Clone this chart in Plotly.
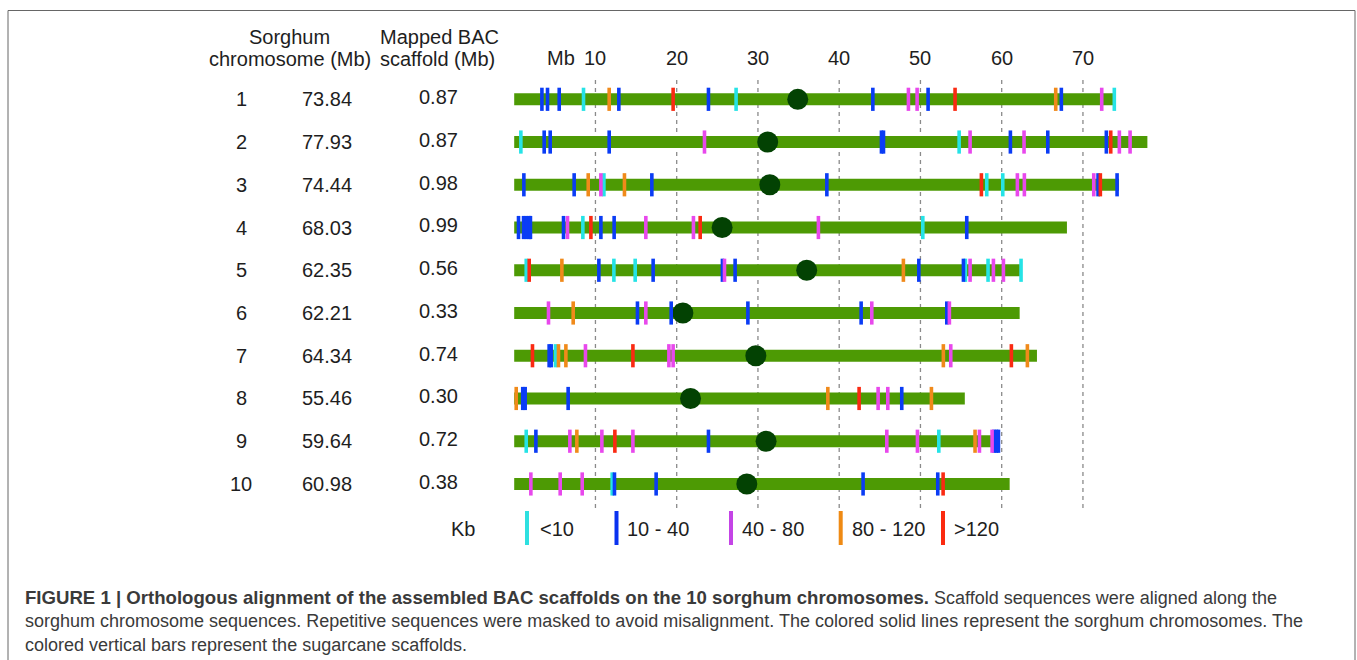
import plotly.graph_objects as go

# ---------------- data ----------------
chrom_ids = [1, 2, 3, 4, 5, 6, 7, 8, 9, 10]
chrom_len_mb = [73.84, 77.93, 74.44, 68.03, 62.35, 62.21, 64.34, 55.46, 59.64, 60.98]
scaffold_mb = ["0.87", "0.87", "0.98", "0.99", "0.56", "0.33", "0.74", "0.30", "0.72", "0.38"]
centromere_mb = [34.9, 31.2, 31.46, 25.59, 36.0, 20.76, 29.74, 21.7, 31.0, 28.63]
grid_ticks = [10, 20, 30, 40, 50, 60, 70]

# scaffold positions (Mb) and size class per chromosome
# classes: c = <10 Kb, b = 10-40, p = 40-80, o = 80-120, r = >120
scaf_chr1_pos = [3.41, 4.10, 5.54, 8.53, 11.69, 12.88, 19.56, 23.91, 27.31, 44.14, 48.52, 49.59, 50.94, 54.26, 66.65, 67.34, 72.31, 73.86]
scaf_chr1_cls = ["b", "b", "b", "c", "o", "b", "r", "b", "c", "b", "p", "p", "b", "r", "o", "b", "p", "c"]
scaf_chr2_pos = [0.82, 3.69, 4.43, 11.69, 23.42, 45.2, 45.45, 54.76, 56.11, 61.07, 62.75, 65.67, 72.88, 73.42, 74.48, 75.80]
scaf_chr2_cls = ["c", "b", "b", "b", "p", "b", "b", "c", "p", "b", "p", "b", "b", "r", "p", "p"]
scaf_chr3_pos = [1.19, 7.38, 9.11, 10.67, 11.04, 13.57, 16.94, 38.48, 57.50, 58.16, 60.13, 61.93, 62.79, 71.33, 71.86, 72.14, 74.2]
scaf_chr3_cls = ["b", "b", "o", "p", "c", "o", "b", "b", "r", "c", "c", "p", "p", "p", "b", "r", "b"]
scaf_chr4_pos = [0.53, 1.15, 1.5, 1.85, 2.0, 6.07, 6.56, 8.45, 9.44, 10.67, 12.30, 16.20, 22.06, 22.89, 37.44, 50.29, 55.70]
scaf_chr4_cls = ["b", "b", "b", "b", "b", "b", "p", "c", "r", "b", "b", "p", "p", "r", "p", "c", "b"]
scaf_chr5_pos = [1.48, 1.85, 5.87, 10.42, 12.27, 14.89, 17.10, 25.63, 25.88, 27.19, 47.90, 49.80, 55.29, 55.53, 56.11, 58.32, 58.98, 60.21, 62.38]
scaf_chr5_cls = ["c", "r", "o", "b", "c", "c", "b", "b", "p", "b", "o", "b", "b", "c", "p", "c", "p", "p", "c"]
scaf_chr6_pos = [4.22, 7.26, 15.17, 16.20, 19.32, 28.76, 42.70, 44.01, 53.24, 53.56]
scaf_chr6_cls = ["p", "o", "b", "p", "b", "b", "b", "p", "b", "p"]
scaf_chr7_pos = [2.25, 4.3, 4.55, 5.08, 5.45, 6.36, 8.77, 14.61, 19.04, 19.56, 52.82, 53.73, 61.19, 63.16]
scaf_chr7_cls = ["r", "b", "b", "c", "o", "o", "p", "r", "p", "p", "o", "p", "r", "o"]
scaf_chr8_pos = [0.25, 1.05, 1.35, 6.64, 38.6, 42.45, 44.79, 45.98, 47.70, 51.35]
scaf_chr8_cls = ["o", "b", "b", "b", "o", "r", "p", "p", "b", "o"]
scaf_chr9_pos = [1.48, 2.67, 6.85, 7.71, 10.79, 12.39, 14.61, 23.91, 45.86, 49.63, 52.26, 56.72, 57.26, 58.82, 59.05, 59.35, 59.6]
scaf_chr9_cls = ["c", "b", "p", "o", "p", "r", "p", "b", "p", "p", "c", "o", "p", "p", "b", "b", "b"]
scaf_chr10_pos = [2.05, 5.66, 8.37, 12.06, 12.34, 17.47, 42.94, 52.13, 52.79]
scaf_chr10_cls = ["p", "p", "p", "c", "b", "b", "b", "b", "r"]

class_keys = ["c", "b", "p", "o", "r"]
class_labels = ["<10", "10 - 40", "40 - 80", "80 - 120", ">120"]

# ---------------- styles ----------------
W, H = 1357, 660
X0_PX, PX_PER_MB = 514.2, 8.125
ROW1_PX, ROW_STEP_PX = 99.3, 42.74
FONT = "Liberation Sans, Arial, sans-serif"
TXT = "#1e1e1e"
bar_colors = {"c": "#25e3e6", "b": "#0a3cf5", "p": "#e848ec", "o": "#f08a1a", "r": "#fa2a12"}
legend_colors = {"c": "#2ee0e0", "b": "#0a32f0", "p": "#c444e6", "o": "#ef8a14", "r": "#fb2a10"}
GREEN = "#4d9a04"
CENT = "#034203"

def px2x(px):
    return px / W

def py2y(py):
    return 1 - py / H

x_range = [(0 - X0_PX) / PX_PER_MB, (W - X0_PX) / PX_PER_MB]
y_range = [1 + (H - ROW1_PX) / ROW_STEP_PX, 1 - ROW1_PX / ROW_STEP_PX]

scaf_pos = [scaf_chr1_pos, scaf_chr2_pos, scaf_chr3_pos, scaf_chr4_pos, scaf_chr5_pos,
            scaf_chr6_pos, scaf_chr7_pos, scaf_chr8_pos, scaf_chr9_pos, scaf_chr10_pos]
scaf_cls = [scaf_chr1_cls, scaf_chr2_cls, scaf_chr3_cls, scaf_chr4_cls, scaf_chr5_cls,
            scaf_chr6_cls, scaf_chr7_cls, scaf_chr8_cls, scaf_chr9_cls, scaf_chr10_cls]

fig = go.Figure()

# dashed grid lines
gy_top = 1 + (80 - ROW1_PX) / ROW_STEP_PX
gy_bot = 1 + (508 - ROW1_PX) / ROW_STEP_PX
gx, gyy = [], []
for t in grid_ticks:
    gx += [t, t, None]
    gyy += [gy_top, gy_bot, None]
fig.add_trace(go.Scatter(x=gx, y=gyy, mode="lines", hoverinfo="skip",
                         line=dict(color="#8a8a8a", width=1.3, dash="4px,4px")))

# chromosome bars
cx, cy = [], []
for cid, ln in zip(chrom_ids, chrom_len_mb):
    cx += [0, ln, None]
    cy += [cid, cid, None]
fig.add_trace(go.Scatter(x=cx, y=cy, mode="lines", hoverinfo="skip",
                         line=dict(color=GREEN, width=12)))

# centromeres
fig.add_trace(go.Scatter(x=centromere_mb, y=chrom_ids, mode="markers", hoverinfo="skip",
                         marker=dict(color=CENT, size=21, line=dict(width=0))))

# scaffold bars
half = 11.6 / ROW_STEP_PX
for k in class_keys:
    sx, sy = [], []
    for cid, plist, clist in zip(chrom_ids, scaf_pos, scaf_cls):
        for p, c in zip(plist, clist):
            if c == k:
                sx += [p, p, None]
                sy += [cid - half, cid + half, None]
    fig.add_trace(go.Scatter(x=sx, y=sy, mode="lines", hoverinfo="skip",
                             line=dict(color=bar_colors[k], width=3.6)))

annotations = []
def add_text(text, x, y, xref="paper", yref="paper", size=20, xanchor="center",
             yanchor="middle", color=TXT):
    annotations.append(dict(text=text, x=x, y=y, xref=xref, yref=yref, showarrow=False,
                            xanchor=xanchor, yanchor=yanchor,
                            font=dict(family=FONT, size=size, color=color)))

# headers
add_text("Sorghum", px2x(289), py2y(37))
add_text("chromosome (Mb)", px2x(290), py2y(59))
add_text("Mapped BAC", px2x(440), py2y(37))
add_text("scaffold (Mb)", px2x(438), py2y(59))
add_text("Mb", px2x(561), py2y(58))
for t in grid_ticks:
    add_text(str(t), t, py2y(58), xref="x")

# row labels
for cid, ln, sc in zip(chrom_ids, chrom_len_mb, scaffold_mb):
    add_text(str(cid), px2x(241), cid, yref="y")
    add_text(f"{ln:.2f}", px2x(327), cid, yref="y")
    add_text(sc, px2x(439), cid - 0.05, yref="y")

# legend
add_text("Kb", px2x(463), py2y(529))
shapes = []
leg_bar_px = [527, 616.5, 731, 840.7, 943]
leg_lab_px = [538, 625, 740, 850, 952]
for k, lab, bx, lx in zip(class_keys, class_labels, leg_bar_px, leg_lab_px):
    shapes.append(dict(type="rect", xref="paper", yref="paper",
                       x0=px2x(bx - 2), x1=px2x(bx + 2), y0=py2y(545), y1=py2y(511),
                       line=dict(width=0), fillcolor=legend_colors[k]))
    add_text(lab, px2x(lx), py2y(529), xanchor="left")

# outer frame
shapes.append(dict(type="rect", xref="paper", yref="paper",
                   x0=px2x(8), x1=px2x(1355), y0=py2y(680), y1=py2y(10.5),
                   line=dict(color="#666666", width=1), fillcolor="rgba(0,0,0,0)"))

# caption
cap_size = 18
add_text("<span style='font-size:18.6px'><b>FIGURE 1 | Orthologous alignment of the assembled BAC scaffolds on the 10 sorghum chromosomes.</b></span>"
         " Scaffold sequences were aligned along the",
         px2x(23), py2y(597), xanchor="left", size=cap_size, color="#3a3a3a")
add_text("sorghum chromosome sequences. Repetitive sequences were masked to avoid misalignment. "
         "The colored solid lines represent the sorghum chromosomes. The",
         px2x(23), py2y(621), xanchor="left", size=cap_size, color="#3a3a3a")
add_text("colored vertical bars represent the sugarcane scaffolds.",
         px2x(23), py2y(645), xanchor="left", size=cap_size, color="#3a3a3a")

fig.update_layout(
    width=W, height=H, autosize=False,
    margin=dict(l=0, r=0, t=0, b=0, pad=0),
    paper_bgcolor="white", plot_bgcolor="white",
    showlegend=False,
    xaxis=dict(range=x_range, visible=False, fixedrange=True),
    yaxis=dict(range=y_range, visible=False, fixedrange=True),
    annotations=annotations, shapes=shapes,
)

fig.write_html("out.html", config={"displayModeBar": False, "staticPlot": True},
               post_script="document.body.style.margin='0';document.body.style.overflow='hidden';")
